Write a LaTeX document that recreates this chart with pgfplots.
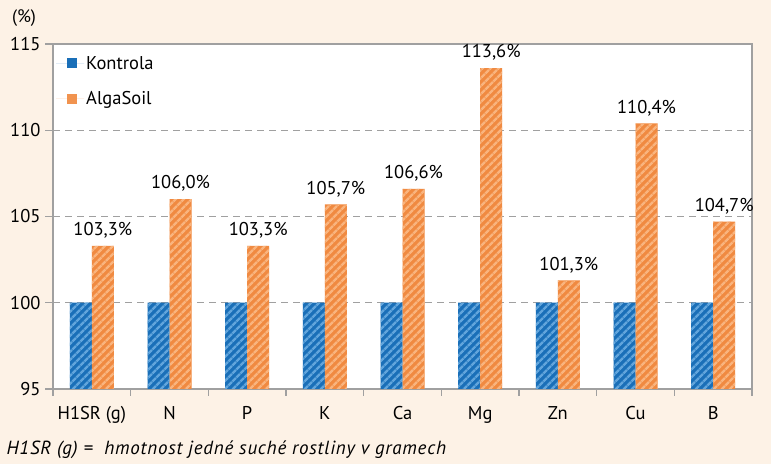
\documentclass[border=0pt]{standalone}
\usepackage{pgfplots}
\pgfplotsset{compat=1.18}
\usepackage{fontspec}
\setmainfont{PT Sans}
\usetikzlibrary{patterns.meta}
\definecolor{bgcream}{HTML}{FDF2E6}
\definecolor{kblue}{HTML}{1A6FB8}
\definecolor{kbluel}{HTML}{62A5DC}
\definecolor{aorange}{HTML}{EF8030}
\definecolor{aorangel}{HTML}{F9B47E}
\definecolor{framegray}{HTML}{A0A0A0}
\pgfplotstableread{
x kontrola algasoil
0 100 103.3
1 100 106.0
2 100 103.3
3 100 105.7
4 100 106.6
5 100 113.6
6 100 101.3
7 100 110.4
8 100 104.7
}\datatable
\begin{document}
\begin{tikzpicture}[x=1bp,y=1bp]
\fill[bgcream] (0,0) rectangle (771,464);
\useasboundingbox (0,0) rectangle (771,464);
\node[anchor=center,font=\fontsize{18bp}{20bp}\selectfont] at (24,446) {(\%)};
\node[anchor=west,font=\fontsize{19bp}{21bp}\selectfont\itshape\addfontfeatures{LetterSpace=4}] at (3,14) {H1SR (g) =\ \ hmotnost jedné suché rostliny v gramech};
\begin{axis}[
  at={(53bp,75bp)}, anchor=south west,
  width=699bp, height=345bp, scale only axis,
  axis background/.style={fill=white},
  axis line style={framegray, line width=1.3pt},
  xmin=-0.5, xmax=8.5, ymin=95, ymax=115,
  ybar, bar width=22bp,
  /pgf/number format/assume math mode=true,
  xtick={0,...,8},
  xticklabels={H1SR (g),N,P,K,Ca,Mg,Zn,Cu,B},
  minor xtick={-0.5,0.5,...,8.5},
  x tick style={draw=none},
  minor x tick style={draw=framegray, line width=1.3pt},
  minor tick length=7bp,
  ytick={95,100,...,115},
  y tick style={draw=framegray, line width=1.3pt},
  major tick length=8bp,
  tick align=outside,
  xtick pos=bottom, ytick pos=left,
  extra y ticks={100,105,110},
  extra y tick labels={},
  extra y tick style={grid=major, major tick length=0pt,
     major grid style={framegray, line width=1.2pt, dash pattern=on 7bp off 5bp}},
  tick label style={font=\fontsize{18.5bp}{20bp}\selectfont},
  xticklabel style={yshift=-6bp},
  yticklabel style={xshift=-1bp},
  legend style={at={(0.0,0.977)}, anchor=north west, draw=none, fill=none,
     font=\fontsize{18.5bp}{20bp}\selectfont, row sep=17bp},
  legend cell align=left,
  clip=false,
]
\addplot[draw=none, fill=kblue, bar shift=-11bp,
  legend image code/.code={\path (0bp,0bp) -- (28bp,0bp); \fill[kblue] (11bp,-5bp) rectangle (21bp,5bp);}]
  table[x=x,y=kontrola]{\datatable};
\addlegendentry{Kontrola}
\addplot[draw=none, fill=aorange!92!white, bar shift=11bp,
  legend image code/.code={\path (0bp,0bp) -- (28bp,0bp); \fill[aorange!85!white] (11bp,-5bp) rectangle (21bp,5bp);},
  nodes near coords={\pgfmathprintnumber[fixed,fixed zerofill,precision=1,use comma]{\pgfplotspointmeta}\%},
  nodes near coords style={font=\fontsize{18.5bp}{20bp}\selectfont, text=black, anchor=south, yshift=4bp}]
  table[x=x,y=algasoil]{\datatable};
\addlegendentry{AlgaSoil}
\addplot[forget plot, draw=none, fill=none, bar shift=-11bp, pattern={Lines[angle=45,distance=6bp,line width=2.8bp]}, pattern color=kbluel]
  table[x=x,y=kontrola]{\datatable};
\addplot[forget plot, draw=none, fill=none, bar shift=11bp, pattern={Lines[angle=45,distance=6bp,line width=2.8bp]}, pattern color=aorangel]
  table[x=x,y=algasoil]{\datatable};
\end{axis}
\end{tikzpicture}
\end{document}
